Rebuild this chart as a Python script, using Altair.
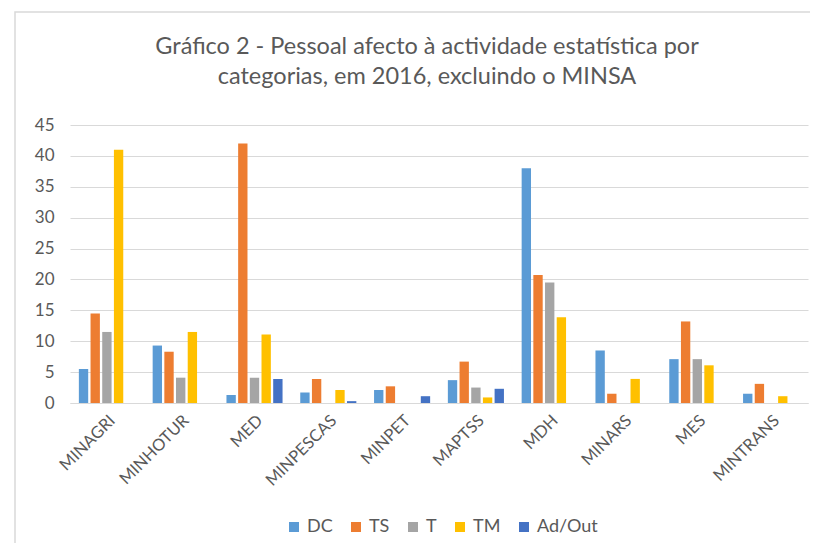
import altair as alt
import pandas as pd

categories = ["MINAGRI", "MINHOTUR", "MED", "MINPESCAS", "MINPET",
              "MAPTSS", "MDH", "MINARS", "MES", "MINTRANS"]
series = ["DC", "TS", "T", "TM", "Ad/Out"]
colors = ["#5B9BD5", "#ED7D31", "#A5A5A5", "#FFC000", "#4472C4"]

dc = [5.5, 9.3, 1.3, 1.7, 2.1, 3.7, 38.0, 8.5, 7.1, 1.5]
ts = [14.5, 8.3, 42.0, 3.9, 2.7, 6.7, 20.7, 1.5, 13.2, 3.1]
t = [11.5, 4.1, 4.1, None, None, 2.5, 19.5, None, 7.1, None]
tm = [41.0, 11.5, 11.1, 2.1, None, 0.9, 13.9, 3.9, 6.1, 1.1]
adout = [None, None, 3.9, 0.3, 1.1, 2.3, None, None, None, None]

rows = []
for s, vals in zip(series, [dc, ts, t, tm, adout]):
    for c, v in zip(categories, vals):
        if v is not None:
            rows.append({"cat": c, "serie": s, "valor": v})
df = pd.DataFrame(rows)

FONT = "Lato"
GREY = "#595959"
LINE = "#D9D9D9"

bars = alt.Chart(df).mark_bar().encode(
    x=alt.X("cat:N", sort=categories,
            scale=alt.Scale(paddingInner=0.24, paddingOuter=0.12),
            axis=alt.Axis(title=None, labelAngle=-45, ticks=False, grid=False,
                          domainColor=LINE, domainWidth=1,
                          labelFont=FONT, labelFontSize=16.5, labelColor=GREY,
                          labelPadding=9)),
    xOffset=alt.XOffset("serie:N", sort=series,
                        scale=alt.Scale(domain=series, paddingInner=0.2, paddingOuter=0)),
    y=alt.Y("valor:Q", scale=alt.Scale(domain=[0, 45], nice=False),
            axis=alt.Axis(title=None, values=list(range(0, 50, 5)), ticks=False,
                          domain=False, grid=True, gridColor=LINE, gridWidth=1,
                          labelFont=FONT, labelFontSize=17, labelColor=GREY,
                          labelPadding=16)),
    color=alt.Color("serie:N", sort=series,
                    scale=alt.Scale(domain=series, range=colors),
                    legend=alt.Legend(title=None, orient="none", direction="horizontal",
                                      legendX=215, legendY=393, columns=5,
                                      symbolType="square", symbolSize=100,
                                      symbolStrokeWidth=0, symbolOpacity=1,
                                      labelFont=FONT, labelFontSize=18, labelColor=GREY,
                                      labelOffset=4, columnPadding=14)),
)

frame = alt.Chart(pd.DataFrame({"a": [0]})).mark_rect(
    fill="transparent", stroke=LINE, strokeWidth=1.5
).encode(
    x=alt.value(-55), x2=alt.value(780), y=alt.value(-113), y2=alt.value(440)
)

chart = alt.layer(frame, bars).properties(
    width=738, height=278,
    autosize=alt.AutoSizeParams(type="none"),
    padding={"left": 62, "top": 117, "right": 2, "bottom": 140},
    title=alt.TitleParams(
        text=["Gráfico 2 - Pessoal afecto à actividade estatística por",
              "categorias, em 2016, excluindo o MINSA"],
        font=FONT, fontSize=23.5, fontWeight="normal", color=GREY,
        anchor="middle", dx=-12, offset=-77, lineHeight=30),
).configure_view(stroke=None)

chart.save("out.html", embed_options={"renderer": "svg", "actions": False})
